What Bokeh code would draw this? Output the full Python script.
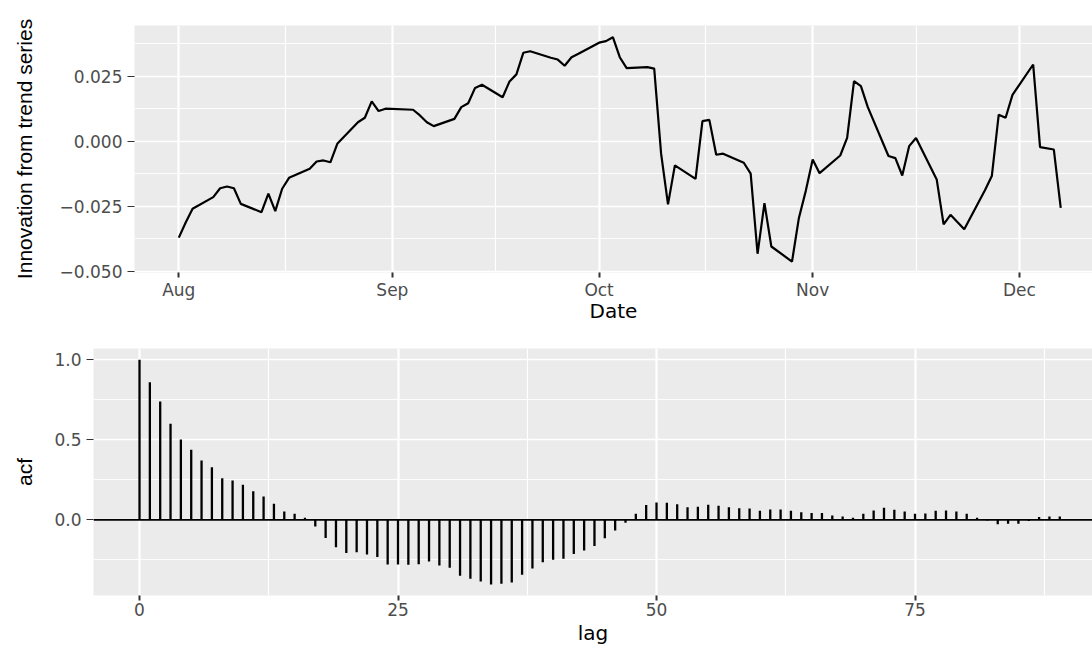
import pandas as pd
from bokeh.plotting import figure
from bokeh.layouts import column, row
from bokeh.models import FixedTicker, Range1d, ColumnDataSource, Span
from bokeh.embed import file_html
from bokeh.resources import INLINE

# ---------------- data ----------------
dates = [
    "2018-08-01", "2018-08-02", "2018-08-03", "2018-08-06", "2018-08-07", "2018-08-08",
    "2018-08-09", "2018-08-10", "2018-08-13", "2018-08-14", "2018-08-15", "2018-08-16",
    "2018-08-17", "2018-08-20", "2018-08-21", "2018-08-22", "2018-08-23", "2018-08-24",
    "2018-08-27", "2018-08-28", "2018-08-29", "2018-08-30", "2018-08-31",
    "2018-09-04", "2018-09-05", "2018-09-06", "2018-09-07", "2018-09-10", "2018-09-11",
    "2018-09-12", "2018-09-13", "2018-09-14", "2018-09-17", "2018-09-18", "2018-09-19",
    "2018-09-20", "2018-09-21", "2018-09-24", "2018-09-25", "2018-09-26", "2018-09-27",
    "2018-09-28",
    "2018-10-01", "2018-10-02", "2018-10-03", "2018-10-04", "2018-10-05", "2018-10-08",
    "2018-10-09", "2018-10-10", "2018-10-11", "2018-10-12", "2018-10-15", "2018-10-16",
    "2018-10-17", "2018-10-18", "2018-10-19", "2018-10-22", "2018-10-23", "2018-10-24",
    "2018-10-25", "2018-10-26", "2018-10-29", "2018-10-30", "2018-10-31",
    "2018-11-01", "2018-11-02", "2018-11-05", "2018-11-06", "2018-11-07", "2018-11-08",
    "2018-11-09", "2018-11-12", "2018-11-13", "2018-11-14", "2018-11-15", "2018-11-16",
    "2018-11-19", "2018-11-20", "2018-11-21", "2018-11-23", "2018-11-26", "2018-11-27",
    "2018-11-28", "2018-11-29", "2018-11-30",
    "2018-12-03", "2018-12-04", "2018-12-06", "2018-12-07",
]
innovation = [
    -0.0370, -0.0312, -0.0259, -0.0214, -0.0180, -0.0173,
    -0.0180, -0.0240, -0.0272, -0.0201, -0.0268, -0.0182,
    -0.0140, -0.0105, -0.0077, -0.0073, -0.0080, -0.0009,
    0.0074, 0.0091, 0.0154, 0.0117, 0.0126,
    0.0122, 0.0100, 0.0074, 0.0059, 0.0087, 0.0132,
    0.0147, 0.0206, 0.0218, 0.0170, 0.0231, 0.0258,
    0.0341, 0.0347, 0.0322, 0.0315, 0.0291, 0.0324,
    0.0337,
    0.0380, 0.0386, 0.0401, 0.0324, 0.0282, 0.0286,
    0.0280, -0.0047, -0.0242, -0.0092, -0.0144, 0.0078,
    0.0083, -0.0051, -0.0047, -0.0082, -0.0124, -0.0432,
    -0.0237, -0.0404, -0.0462, -0.0294, -0.0190,
    -0.0069, -0.0122, -0.0054, 0.0014, 0.0232, 0.0213,
    0.0132, -0.0056, -0.0064, -0.0131, -0.0018, 0.0013,
    -0.0146, -0.0319, -0.0282, -0.0338, -0.0188, -0.0133,
    0.0103, 0.0091, 0.0179,
    0.0296, -0.0022, -0.0031, -0.0255,
]

lags = list(range(90))
acf = [
    1.000, 0.860, 0.740, 0.600, 0.502, 0.438, 0.371, 0.329, 0.260, 0.246,
    0.219, 0.179, 0.146, 0.100, 0.052, 0.038, 0.013, -0.042, -0.113, -0.171,
    -0.208, -0.202, -0.217, -0.233, -0.279, -0.279, -0.281, -0.277, -0.260, -0.285,
    -0.300, -0.350, -0.369, -0.385, -0.404, -0.400, -0.392, -0.344, -0.304, -0.265,
    -0.250, -0.244, -0.213, -0.192, -0.163, -0.115, -0.067, -0.019, 0.038, 0.092,
    0.108, 0.106, 0.098, 0.079, 0.081, 0.094, 0.088, 0.078, 0.073, 0.071,
    0.056, 0.065, 0.065, 0.056, 0.048, 0.042, 0.042, 0.027, 0.021, 0.013,
    0.038, 0.058, 0.075, 0.063, 0.052, 0.038, 0.040, 0.056, 0.058, 0.052,
    0.038, 0.013, -0.004, -0.027, -0.025, -0.025, -0.008, 0.017, 0.021, 0.021,
]

month_ticks = ["2018-08-01", "2018-09-01", "2018-10-01", "2018-11-01", "2018-12-01"]
month_labels = ["Aug", "Sep", "Oct", "Nov", "Dec"]
month_minor = ["2018-07-16 12:00", "2018-08-16 12:00", "2018-09-16", "2018-10-16 12:00",
               "2018-11-16", "2018-12-16 12:00"]

y1_ticks = [-0.05, -0.025, 0, 0.025]
y1_labels = ["\u22120.050", "\u22120.025", "0.000", "0.025"]
y1_minor = [-0.0375, -0.0125, 0.0125, 0.0375]

y2_ticks = [0, 0.5, 1]
y2_labels = ["0.0", "0.5", "1.0"]
y2_minor = [-0.25, 0.25, 0.75]
x2_ticks = [0, 25, 50, 75]
x2_minor = [12.5, 37.5, 62.5, 87.5]


def ms(d):
    return int(pd.Timestamp(d).value // 10**6)


DAY = 86400000
t0 = ms(dates[0])

TICK_FONT = "DejaVu Sans"
TICK_COLOR = "#4D4D4D"


def style(p):
    p.background_fill_color = "#EBEBEB"
    p.border_fill_color = "white"
    p.outline_line_color = None
    p.xgrid.grid_line_color = "white"
    p.xgrid.grid_line_width = 2.2
    p.xgrid.minor_grid_line_color = "white"
    p.xgrid.minor_grid_line_width = 1.2
    p.ygrid.grid_line_color = "white"
    p.ygrid.grid_line_width = 1.6
    p.ygrid.minor_grid_line_color = "white"
    p.ygrid.minor_grid_line_width = 0.9
    for ax in p.axis:
        ax.axis_line_color = None
        ax.major_tick_line_color = "#333333"
        ax.major_tick_in = 0
        ax.minor_tick_line_color = None
        ax.major_label_text_color = TICK_COLOR
        ax.major_label_text_font = TICK_FONT
        ax.major_label_text_font_size = "17px"
        ax.axis_label_text_color = "black"
        ax.axis_label_text_font_style = "normal"
    for ax in p.xaxis:
        ax.major_tick_out = 5
        ax.major_tick_line_width = 2
        ax.axis_label_text_font = "DejaVu Sans"
        ax.axis_label_text_font_size = "20px"
    for ax in p.yaxis:
        ax.major_tick_out = 7
        ax.major_tick_line_width = 1.2
        ax.major_label_standoff = 5
        ax.axis_label_text_font = "Liberation Sans"
        ax.axis_label_text_font_size = "21px"


# ---------------- top: innovation series ----------------
src1 = ColumnDataSource(dict(date=pd.to_datetime(dates), innov=innovation))
FW1 = 958
x1_start = t0 - 6.43 * DAY
x1_end = x1_start + FW1 / 6.89 * DAY

p1 = figure(frame_width=FW1, frame_height=247,
            min_border_left=134, min_border_right=0, min_border_top=25, min_border_bottom=61,
            x_range=Range1d(x1_start, x1_end), y_range=Range1d(-0.0504, 0.0446),
            toolbar_location=None, output_backend="svg")
p1.line(x="date", y="innov", source=src1, line_color="black", line_width=2.2)

tick_ms = [ms(d) for d in month_ticks]
p1.xaxis.ticker = FixedTicker(ticks=tick_ms, minor_ticks=[ms(d) for d in month_minor])
p1.xaxis.major_label_overrides = {t: lab for t, lab in zip(tick_ms, month_labels)}
p1.yaxis.ticker = FixedTicker(ticks=y1_ticks, minor_ticks=y1_minor)
p1.yaxis.major_label_overrides = {t: lab for t, lab in zip(y1_ticks, y1_labels)}
p1.xaxis.axis_label = "Date"
p1.yaxis.axis_label = "Innovation from trend series"
style(p1)
p1.xaxis.major_label_standoff = 2
p1.xaxis.axis_label_standoff = -4
p1.yaxis.axis_label_standoff = 21

# ---------------- bottom: ACF ----------------
src2 = ColumnDataSource(dict(lag=lags, acf=acf, zero=[0] * len(lags)))
FW2 = 999
x2_start = -4.45
x2_end = x2_start + FW2 / 10.34

p2 = figure(frame_width=FW2, frame_height=247,
            min_border_left=93, min_border_right=0, min_border_top=15, min_border_bottom=53,
            x_range=Range1d(x2_start, x2_end), y_range=Range1d(-0.473, 1.0706),
            toolbar_location=None, output_backend="svg")
p2.segment(x0="lag", y0="zero", x1="lag", y1="acf", source=src2,
           line_color="black", line_width=2.3)
p2.add_layout(Span(location=0, dimension="width", line_color="black", line_width=1.7))

p2.xaxis.ticker = FixedTicker(ticks=x2_ticks, minor_ticks=x2_minor)
p2.yaxis.ticker = FixedTicker(ticks=y2_ticks, minor_ticks=y2_minor)
p2.yaxis.major_label_overrides = {t: lab for t, lab in zip(y2_ticks, y2_labels)}
p2.xaxis.axis_label = "lag"
p2.yaxis.axis_label = "acf"
style(p2)
p2.xaxis.major_label_standoff = 2
p2.xaxis.axis_label_standoff = 2
p2.yaxis.axis_label_standoff = 15

layout = column(row(p1), row(p2))
open("out.html", "w").write(file_html(layout, INLINE))
